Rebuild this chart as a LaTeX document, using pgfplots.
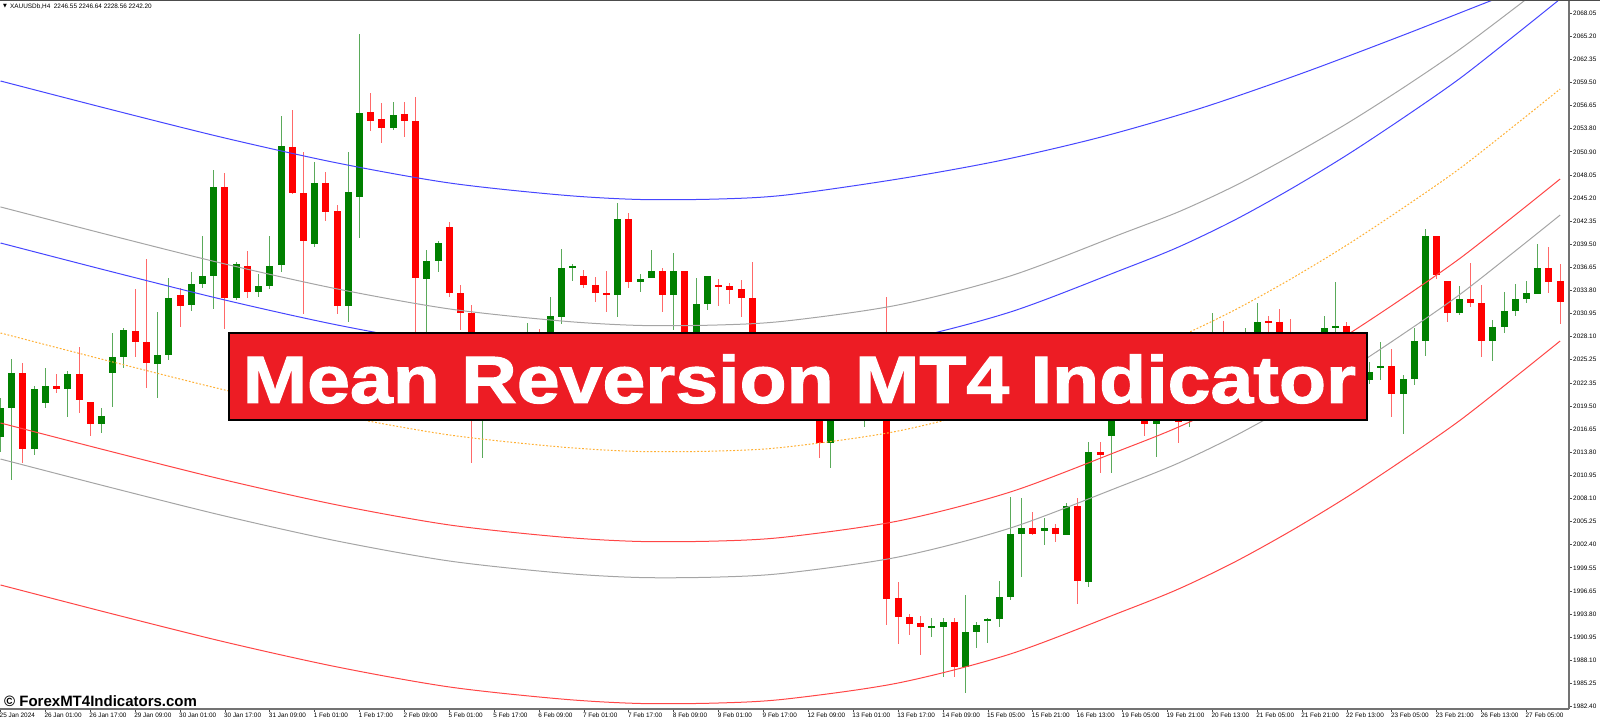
\documentclass[border=0pt]{standalone}
\usepackage{fontspec}
\setmainfont{Liberation Sans}
\newfontfamily\dejavu{DejaVu Sans}
\newfontfamily\bannerfont{Liberation Sans}[BoldFeatures={FakeBold=1.5}]
\usepackage{pgfplots}
\usepackage{pgfplotstable}
\pgfplotsset{compat=1.18}

\definecolor{bullbody}{RGB}{0,128,0}
\definecolor{bullwick}{RGB}{90,170,90}
\definecolor{bearbody}{RGB}{255,0,0}
\definecolor{bearwick}{RGB}{255,105,105}
\definecolor{bandblue}{RGB}{70,70,255}
\definecolor{bandgray}{RGB}{165,165,165}
\definecolor{bandred}{RGB}{255,70,70}
\definecolor{bandorange}{RGB}{255,175,50}
\definecolor{bannerred}{RGB}{237,28,36}

% H4 bars, index = bar number from the left edge
\pgfplotstableread{
i O H L C
0 2015.70 2020.52 2013.85 2019.28
1 2019.28 2025.32 2010.39 2023.59
3 2014.22 2021.99 2013.48 2021.62
4 2019.90 2024.21 2019.28 2021.99
6 2021.62 2023.84 2018.17 2023.47
9 2017.31 2019.28 2016.20 2018.29
10 2023.59 2028.54 2019.41 2025.57
11 2025.57 2029.15 2024.21 2028.91
14 2024.71 2031.13 2020.52 2025.82
15 2025.82 2035.33 2025.20 2032.86
17 2031.99 2036.07 2031.25 2034.59
18 2034.59 2040.52 2034.09 2035.58
19 2035.58 2048.66 2031.50 2046.56
21 2032.86 2037.30 2032.61 2037.06
23 2033.60 2035.82 2032.98 2034.34
24 2034.34 2040.52 2033.97 2036.81
25 2036.93 2055.32 2036.07 2051.62
28 2039.53 2049.65 2039.16 2047.06
31 2031.87 2050.88 2029.90 2045.94
32 2045.33 2065.45 2040.27 2055.70
35 2053.85 2057.06 2053.60 2055.45
38 2035.21 2038.79 2027.06 2037.43
39 2037.43 2039.90 2036.07 2039.65
43 2020.00 2023.00 2013.11 2022.50
44 2022.50 2024.58 2019.65 2023.35
46 2021.50 2026.44 2020.89 2025.20
47 2025.20 2029.77 2023.97 2027.67
49 2025.82 2032.98 2025.20 2030.63
50 2030.51 2038.91 2029.65 2036.56
51 2036.56 2037.06 2034.96 2036.81
55 2033.23 2044.59 2030.51 2042.61
57 2034.83 2035.82 2033.60 2035.21
58 2035.33 2038.79 2035.33 2036.19
60 2033.23 2038.42 2028.91 2036.19
62 2027.06 2035.33 2026.44 2032.12
63 2032.12 2035.58 2031.38 2035.58
69 2022.73 2025.82 2021.50 2024.58
72 2020.27 2022.73 2019.03 2021.50
74 2014.96 2020.27 2011.88 2019.65
75 2019.65 2022.12 2018.42 2020.89
77 2019.03 2021.50 2016.94 2020.89
78 2020.27 2023.35 2019.03 2022.12
83 1992.12 1993.36 1991.01 1992.37
84 1992.24 1993.36 1986.07 1992.86
86 1987.30 1996.19 1984.09 1991.62
87 1991.62 1992.86 1989.65 1992.49
88 1993.11 1993.36 1990.27 1993.23
89 1993.23 1997.92 1992.24 1995.95
90 1995.95 2008.29 1995.58 2003.72
91 2003.72 2008.17 1998.41 2004.46
93 2004.09 2005.70 2002.37 2004.46
95 2003.60 2007.55 2003.60 2007.18
97 1997.80 2015.08 1997.18 2013.85
99 2015.82 2021.25 2011.26 2020.27
101 2019.03 2021.50 2018.42 2020.27
103 2017.31 2020.27 2013.23 2019.65
104 2017.67 2020.27 2017.67 2019.03
106 2018.42 2021.50 2016.94 2020.27
107 2020.27 2023.97 2019.03 2022.12
108 2022.12 2031.00 2020.89 2025.20
110 2023.97 2027.06 2022.73 2025.82
111 2025.82 2029.15 2025.20 2027.67
112 2027.06 2032.24 2026.44 2029.90
116 2025.20 2028.29 2024.21 2027.06
117 2026.44 2028.17 2025.45 2027.67
118 2027.67 2030.63 2027.06 2029.15
119 2029.28 2034.83 2027.67 2029.40
122 2022.73 2024.96 2022.24 2023.72
123 2024.21 2027.42 2022.73 2024.46
125 2021.01 2023.35 2016.07 2022.86
126 2022.86 2029.15 2022.12 2027.55
127 2027.55 2041.38 2025.70 2040.52
130 2031.00 2034.34 2030.76 2032.73
133 2027.55 2030.14 2025.08 2029.28
134 2029.28 2033.60 2028.54 2031.25
135 2031.25 2034.59 2030.63 2032.73
136 2032.73 2034.96 2032.24 2033.48
137 2033.36 2039.53 2033.36 2036.56
}\bull

\pgfplotstableread{
i O H L C
2 2023.59 2024.83 2012.49 2014.22
5 2021.99 2023.47 2021.12 2021.62
7 2023.47 2026.81 2018.66 2020.27
8 2020.02 2020.02 2015.82 2017.31
12 2028.78 2033.96 2025.57 2027.42
13 2027.42 2037.67 2021.75 2024.83
16 2033.23 2034.09 2029.28 2031.87
20 2046.56 2048.29 2029.03 2032.86
22 2036.81 2038.66 2032.86 2033.60
26 2051.50 2056.07 2045.70 2045.82
27 2045.82 2050.88 2030.88 2039.90
29 2047.06 2048.42 2042.37 2043.48
30 2043.60 2044.34 2030.88 2031.87
33 2055.82 2058.17 2053.48 2054.71
34 2054.96 2056.93 2051.99 2053.85
36 2055.58 2057.06 2052.74 2054.71
37 2054.71 2057.67 2026.44 2035.33
40 2041.63 2042.25 2032.98 2033.48
41 2033.48 2034.46 2028.91 2031.00
42 2031.00 2031.99 2012.49 2020.27
45 2023.35 2025.20 2020.27 2021.50
48 2027.67 2029.03 2024.58 2025.82
52 2035.58 2036.32 2034.09 2034.46
53 2034.46 2035.45 2032.37 2033.48
54 2033.48 2036.19 2031.13 2033.23
56 2042.61 2043.35 2034.09 2034.83
59 2036.19 2036.56 2031.13 2033.23
61 2036.19 2036.19 2025.82 2027.06
64 2034.46 2035.21 2031.87 2034.34
65 2034.34 2034.71 2032.12 2033.85
66 2033.97 2035.08 2030.51 2032.86
67 2032.86 2037.30 2023.97 2025.20
68 2025.20 2026.44 2021.50 2022.73
70 2024.58 2025.20 2020.89 2022.12
71 2022.12 2023.35 2019.03 2020.27
73 2020.89 2022.12 2013.11 2014.96
76 2020.89 2022.73 2019.03 2020.27
79 2022.12 2032.98 1992.49 1995.70
80 1995.83 1997.80 1990.14 1993.48
81 1993.48 1993.85 1991.25 1992.61
82 1992.74 1993.60 1988.78 1992.24
85 1992.86 1993.36 1986.07 1987.30
92 2004.46 2006.44 2003.60 2003.72
94 2004.46 2004.96 2002.74 2003.72
96 2007.18 2008.17 1995.08 1997.92
98 2013.85 2015.08 2011.26 2013.48
100 2020.27 2021.50 2018.05 2019.03
102 2020.27 2021.50 2015.82 2017.31
105 2019.03 2020.27 2014.96 2017.55
109 2025.20 2030.02 2022.73 2023.97
113 2030.02 2030.63 2027.67 2029.90
114 2029.90 2031.50 2025.82 2027.06
115 2027.06 2030.27 2024.58 2025.82
120 2029.40 2029.90 2025.82 2027.06
121 2027.06 2027.67 2022.12 2022.73
124 2024.46 2026.56 2018.17 2021.01
128 2040.52 2040.52 2035.21 2035.70
129 2034.96 2034.96 2029.90 2031.00
131 2032.73 2037.18 2031.75 2032.24
132 2032.24 2034.46 2025.57 2027.55
138 2036.56 2039.16 2033.48 2034.83
139 2034.96 2037.06 2029.65 2032.37
}\bear

% mean reversion bands, drawn up to the last bar
\pgfplotstableread{
i mid blueB redA grayA grayB redB
0 2028.54 2039.65 2017.43 2044.10 2012.98 1997.43
10 2024.96 2036.07 2013.85 2040.52 2009.40 1993.85
20 2021.50 2032.61 2010.39 2037.06 2005.94 1990.39
30 2018.42 2029.53 2007.31 2033.98 2002.86 1987.31
40 2015.95 2027.06 2004.84 2031.51 2000.39 1984.84
50 2014.46 2025.57 2003.35 2030.02 1998.90 1983.35
57 2013.91 2025.02 2002.80 2029.47 1998.35 1982.80
64 2013.97 2025.08 2002.86 2029.53 1998.41 1982.86
70 2014.46 2025.57 2003.35 2030.02 1998.90 1983.35
80 2016.44 2027.55 2005.33 2032.00 2000.88 1985.33
90 2020.02 2031.13 2008.91 2035.58 2004.46 1988.91
100 2025.27 2036.38 2014.16 2040.83 2009.71 1994.16
105 2028.05 2039.16 2016.94 2043.50 2012.49 1996.94
110 2031.38 2042.49 2020.27 2046.70 2015.82 2000.27
115 2035.21 2046.32 2024.10 2050.40 2019.65 2004.10
120 2039.40 2050.51 2028.29 2054.40 2023.84 2008.29
125 2043.97 2055.08 2032.86 2058.80 2028.41 2012.86
130 2048.79 2059.90 2037.68 2063.50 2033.23 2017.68
135 2054.22 2065.33 2043.11 2068.70 2038.66 2023.11
139 2058.66 2069.77 2047.55 2073.00 2043.10 2027.55
}\bands

\pgfplotstableread{
i blueA
0 2059.65
10 2056.07
20 2052.61
30 2049.53
40 2047.06
50 2045.57
57 2045.02
64 2045.08
70 2045.57
80 2047.55
89 2049.80
98 2052.70
107 2056.30
116 2060.60
125 2065.30
133 2069.65
139 2072.80
}\outer

\begin{document}
\begin{tikzpicture}
\useasboundingbox (0pt,0pt) rectangle (1600pt,719pt);
\begin{axis}[
    at={(0pt,10pt)}, anchor=south west,
    scale only axis,
    width=1569pt, height=709pt,
    xmin=-0.045, xmax=139.79,
    ymin=1982.12, ymax=2069.65,
    axis x line*=bottom,
    axis y line*=right,
    axis line style={black!55, line width=1.2pt},
    tick align=outside,
    major tick length=3pt,
    tick style={black!70, line width=0.8pt},
    xtick={0,4,...,136},
    xticklabels={25 Jan 2024,26 Jan 01:00,26 Jan 17:00,29 Jan 09:00,30 Jan 01:00,30 Jan 17:00,31 Jan 09:00,1 Feb 01:00,1 Feb 17:00,2 Feb 09:00,5 Feb 01:00,5 Feb 17:00,6 Feb 09:00,7 Feb 01:00,7 Feb 17:00,8 Feb 09:00,9 Feb 01:00,9 Feb 17:00,12 Feb 09:00,13 Feb 01:00,13 Feb 17:00,14 Feb 09:00,15 Feb 05:00,15 Feb 21:00,16 Feb 13:00,19 Feb 05:00,19 Feb 21:00,20 Feb 13:00,21 Feb 05:00,21 Feb 21:00,22 Feb 13:00,23 Feb 05:00,23 Feb 21:00,26 Feb 13:00,27 Feb 05:00},
    ytick={1982.40,1985.25,1988.10,1990.95,1993.80,1996.65,1999.55,2002.40,2005.25,2008.10,2010.95,2013.80,2016.65,2019.50,2022.35,2025.25,2028.10,2030.95,2033.80,2036.65,2039.50,2042.35,2045.20,2048.05,2050.90,2053.80,2056.65,2059.50,2062.35,2065.20,2068.05},
    yticklabels={1982.40,1985.25,1988.10,1990.95,1993.80,1996.65,1999.55,2002.40,2005.25,2008.10,2010.95,2013.80,2016.65,2019.50,2022.35,2025.25,2028.10,2030.95,2033.80,2036.65,2039.50,2042.35,2045.20,2048.05,2050.90,2053.80,2056.65,2059.50,2062.35,2065.20,2068.05},
    ticklabel style={font=\fontsize{6.4}{7}\selectfont, text=black},
    xticklabel style={anchor=north west, inner sep=0pt, xshift=-1pt, yshift=-1pt},
    yticklabel style={anchor=west, inner sep=0pt, xshift=1pt},
    clip=true,
]
% wicks
\addplot[draw=none, mark=none, error bars/.cd, y dir=both, y explicit, error mark=none,
    error bar style={draw=bullwick, line width=1pt}]
    table[x=i, y expr=(\thisrow{H}+\thisrow{L})/2, y error expr=(\thisrow{H}-\thisrow{L})/2] {\bull};
\addplot[draw=none, mark=none, error bars/.cd, y dir=both, y explicit, error mark=none,
    error bar style={draw=bearwick, line width=1pt}]
    table[x=i, y expr=(\thisrow{H}+\thisrow{L})/2, y error expr=(\thisrow{H}-\thisrow{L})/2] {\bear};
% bodies
\addplot[draw=none, mark=none, error bars/.cd, y dir=both, y explicit, error mark=none,
    error bar style={draw=bullbody, line width=7pt}]
    table[x=i, y expr=(\thisrow{O}+\thisrow{C})/2, y error expr=(\thisrow{C}-\thisrow{O})/2] {\bull};
\addplot[draw=none, mark=none, error bars/.cd, y dir=both, y explicit, error mark=none,
    error bar style={draw=bearbody, line width=7pt}]
    table[x=i, y expr=(\thisrow{O}+\thisrow{C})/2, y error expr=(\thisrow{O}-\thisrow{C})/2] {\bear};
% bands
\addplot[bandblue, line width=1pt, smooth, mark=none] table[x=i, y=blueA] {\outer};
\addplot[bandgray, line width=1pt, smooth, mark=none] table[x=i, y=grayA] {\bands};
\addplot[bandblue, line width=1pt, smooth, mark=none] table[x=i, y=blueB] {\bands};
\addplot[bandorange, line width=1pt, smooth, mark=none, dash pattern=on 1.8pt off 1.8pt] table[x=i, y=mid] {\bands};
\addplot[bandred, line width=1pt, smooth, mark=none] table[x=i, y=redA] {\bands};
\addplot[bandgray, line width=1pt, smooth, mark=none] table[x=i, y=grayB] {\bands};
\addplot[bandred, line width=1pt, smooth, mark=none] table[x=i, y=redB] {\bands};
\end{axis}
% window frame line on top
\draw[black!70, line width=1.2pt] (0pt,718.4pt) -- (1600pt,718.4pt);
% symbol header
\node[anchor=west, inner sep=0pt] at (3pt,712.5pt) {\dejavu\fontsize{5}{6}\selectfont ▼};
\node[anchor=west, inner sep=0pt] at (10pt,712.5pt) {\fontsize{6.4}{7}\selectfont XAUUSDb,H4\ \ 2246.55 2246.64 2228.56 2242.20};
% banner
\draw[black, line width=2.5pt, fill=bannerred] (229pt,299pt) rectangle (1367pt,386pt);
\node[anchor=base, inner sep=0pt, text=white, xscale=1.15] at (799.5pt,316pt)
    {\bannerfont\bfseries\fontsize{67}{70}\selectfont Mean Reversion MT4 Indicator};
% watermark
\node[anchor=base west, inner sep=0pt] at (4pt,12pt)
    {\fontsize{15}{16}\selectfont\bfseries © ForexMT4Indicators.com};
\end{tikzpicture}
\end{document}
